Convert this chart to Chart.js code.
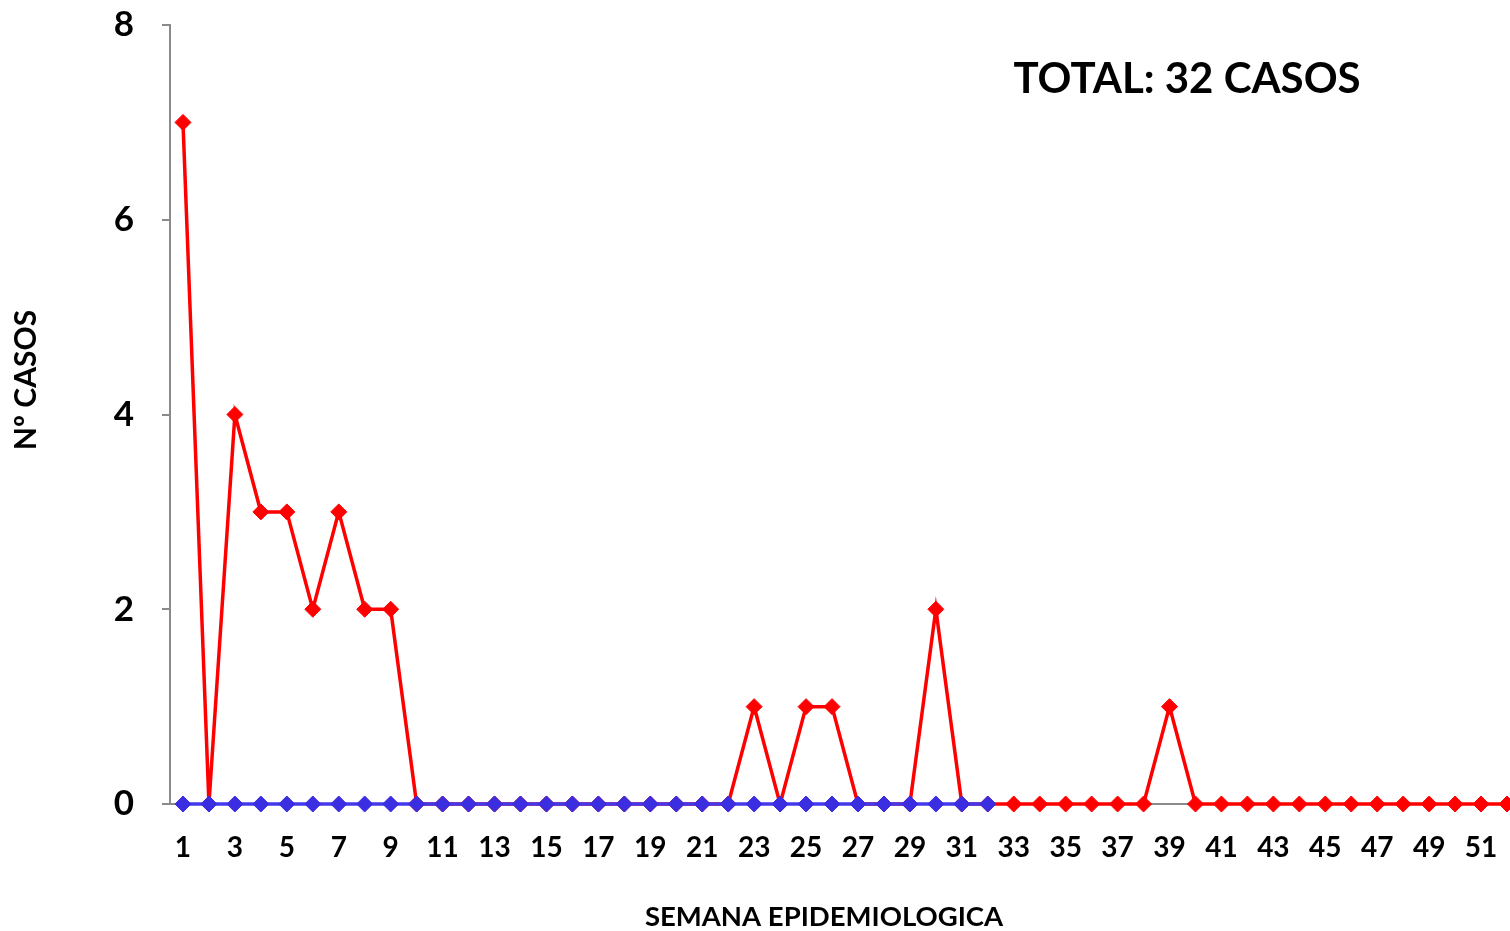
<!DOCTYPE html>
<html>
<head>
<meta charset="utf-8">
<script src="https://cdn.jsdelivr.net/npm/chart.js@4.4.1/dist/chart.umd.min.js"></script>
<style>
  html, body { margin: 0; padding: 0; background: #fff; overflow: hidden; }
  canvas { display: block; }
</style>
</head>
<body>
<canvas id="chart" width="1529" height="931"></canvas>
<script>
// semanas 1..52
const weeks = Array.from({ length: 52 }, (_, i) => String(i + 1));

// casos por semana (rojo)
const casos = [
  7, 0, 4, 3, 3, 2, 3, 2, 2, 0,
  0, 0, 0, 0, 0, 0, 0, 0, 0, 0,
  0, 0, 1, 0, 1, 1, 0, 0, 0, 2,
  0, 0, 0, 0, 0, 0, 0, 0, 1, 0,
  0, 0, 0, 0, 0, 0, 0, 0, 0, 0,
  0, 0
];

// segunda serie (azul), solo hasta la semana 32
const casosAzul = [
  0, 0, 0, 0, 0, 0, 0, 0, 0, 0,
  0, 0, 0, 0, 0, 0, 0, 0, 0, 0,
  0, 0, 0, 0, 0, 0, 0, 0, 0, 0,
  0, 0
];

const yTicks = [0, 2, 4, 6, 8];

const FONT = 'Lato, "Open Sans", sans-serif';

// titulos dibujados a mano para poder ubicarlos como en el original
const titles = {
  id: 'titles',
  afterDraw(chart) {
    const ctx = chart.ctx;
    ctx.save();
    ctx.fillStyle = '#000';
    ctx.textAlign = 'center';
    ctx.textBaseline = 'middle';

    ctx.font = 'bold 42px ' + FONT;
    ctx.fillText('TOTAL: 32 CASOS', 1187, 79);

    ctx.font = 'bold 27.5px ' + FONT;
    ctx.fillText('SEMANA EPIDEMIOLOGICA', 824, 917);

    ctx.font = 'bold 30px ' + FONT;
    ctx.translate(26, 380);
    ctx.rotate(-Math.PI / 2);
    ctx.fillText('Nº CASOS', 0, 0);
    ctx.restore();
  }
};

new Chart(document.getElementById('chart'), {
  type: 'line',
  data: {
    labels: weeks,
    datasets: [{
      label: 'Azul',
      data: casosAzul,
      borderColor: '#4338EC',
      backgroundColor: '#3B2DE0',
      pointBorderColor: '#3B2DE0',
      borderWidth: 3.5,
      pointStyle: 'rectRot',
      pointRadius: 8,
      pointBorderWidth: 1,
      tension: 0,
      clip: false,
      order: 1
    }, {
      label: 'Casos',
      data: casos,
      borderColor: '#FF0000',
      backgroundColor: '#FF0000',
      pointBorderColor: '#FF0000',
      borderWidth: 3.5,
      pointStyle: 'rectRot',
      pointRadius: 8,
      pointBorderWidth: 1,
      tension: 0,
      clip: false,
      order: 2
    }]
  },
  options: {
    responsive: false,
    animation: false,
    layout: { padding: { top: 25, right: 0, bottom: 0, left: 0 } },
    plugins: {
      legend: { display: false },
      tooltip: { enabled: false }
    },
    scales: {
      x: {
        offset: true,
        afterFit(scale) {
          scale.height = 127;
          scale.paddingLeft = 0;
          scale.paddingRight = 0;
        },
        grid: { display: false, drawTicks: false },
        border: { display: true, color: '#8a8a8a', width: 2 },
        ticks: {
          autoSkip: false,
          maxRotation: 0,
          padding: 27,
          color: '#000',
          font: { family: FONT, size: 28, weight: 'bold' },
          callback(v, i) { return i % 2 === 0 ? weeks[i] : ''; }
        }
      },
      y: {
        min: 0,
        max: 8,
        afterFit(scale) {
          scale.width = 170;
          scale.paddingTop = 0;
          scale.paddingBottom = 0;
        },
        afterBuildTicks(scale) { scale.ticks = yTicks.map(v => ({ value: v })); },
        grid: { drawOnChartArea: false, drawTicks: true, tickLength: 8, color: '#8a8a8a', lineWidth: 2 },
        border: { display: true, color: '#8a8a8a', width: 2 },
        ticks: {
          padding: 28,
          color: '#000',
          font: { family: FONT, size: 35, weight: 'bold' }
        }
      }
    }
  },
  plugins: [titles]
});
</script>
</body>
</html>
